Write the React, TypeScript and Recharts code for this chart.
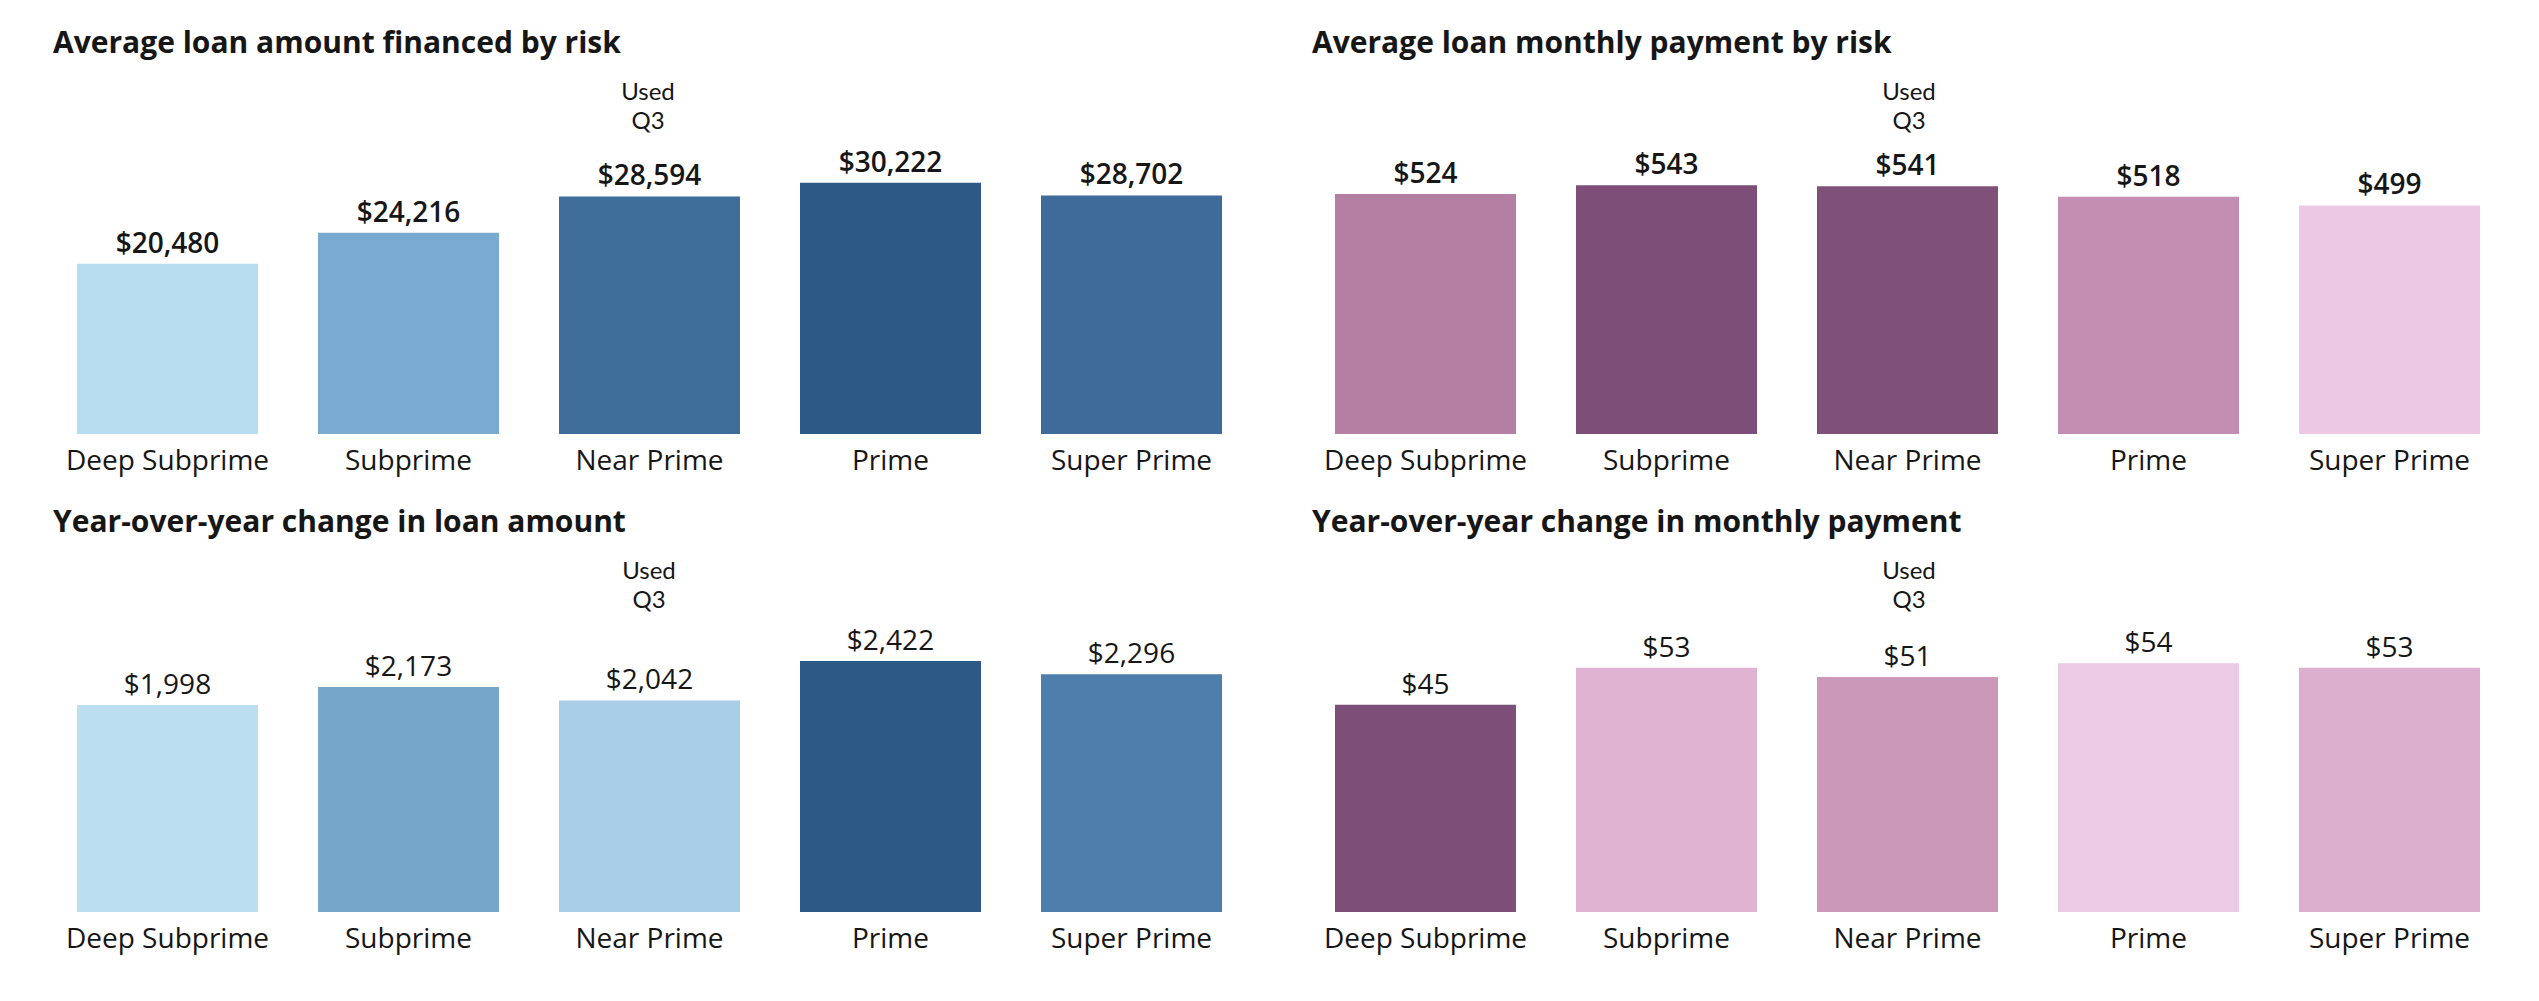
import React from 'react';
import { BarChart, Bar, XAxis, YAxis, Cell, LabelList } from 'recharts';

const categories = ['Deep Subprime', 'Subprime', 'Near Prime', 'Prime', 'Super Prime'];
const loanAmount = [20480, 24216, 28594, 30222, 28702];
const monthlyPayment = [524, 543, 541, 518, 499];
const yoyLoanAmount = [1998, 2173, 2042, 2422, 2296];
const yoyMonthlyPayment = [45, 53, 51, 54, 53];

const loanAmountColors = ['#b9ddf0', '#7aaacf', '#3e6d99', '#2c5985', '#3f6b9b'];
const monthlyPaymentColors = ['#b47fa2', '#7d4e78', '#7f5179', '#c48db2', '#ecc8e4'];
const yoyLoanAmountColors = ['#bbdef0', '#76a7cb', '#a8cee8', '#2c5985', '#4d7eac'];
const yoyMonthlyPaymentColors = ['#7d4e78', '#e0b3d2', '#cc98ba', '#ecc9e4', '#ddafcf'];

const titles = [
  'Average loan amount financed by risk',
  'Average loan monthly payment by risk',
  'Year-over-year change in loan amount',
  'Year-over-year change in monthly payment',
];
const headerLines = ['Used', 'Q3'];

const FONT = '"Open Sans", "Noto Sans", sans-serif';
const HEADER_FONT = 'Lato, "Open Sans", sans-serif';
const TEXT = '#161616';

const fmt = (v: number) => '$' + v.toLocaleString('en-US');

type PanelProps = {
  left: number;
  top: number;
  values: number[];
  colors: string[];
  domainMax: number;
  labelWeight: number;
};

function Panel({ left, top, values, colors, domainMax, labelWeight }: PanelProps) {
  const data = categories.map((c, i) => ({ category: c, value: values[i] }));
  return (
    <div style={{ position: 'absolute', left, top }}>
      <BarChart width={1205} height={354} data={data} margin={{ top: 0, right: 0, bottom: 0, left: 0 }}>
        <YAxis hide domain={[0, domainMax]} />
        <XAxis
          dataKey="category"
          axisLine={false}
          tickLine={false}
          tickSize={0}
          tickMargin={16}
          height={60}
          interval={0}
          tick={{ fill: TEXT, fontSize: 28, fontFamily: FONT }}
        />
        <Bar dataKey="value" barSize={181} isAnimationActive={false}>
          {data.map((d, i) => (
            <Cell key={d.category} fill={colors[i]} />
          ))}
          <LabelList
            dataKey="value"
            position="top"
            offset={11}
            formatter={(v: any) => fmt(Number(v))}
            style={{ fill: TEXT, fontSize: 28, fontFamily: FONT, fontWeight: labelWeight }}
          />
        </Bar>
      </BarChart>
    </div>
  );
}

export default function App() {
  const titlePos = [
    { x: 53, y: 53 },
    { x: 1312, y: 53 },
    { x: 53, y: 532 },
    { x: 1312, y: 532 },
  ];
  const headerPos = [
    { x: 648, y: 100 },
    { x: 1909, y: 100 },
    { x: 649, y: 579 },
    { x: 1909, y: 579 },
  ];
  return (
    <div style={{ position: 'absolute', left: 0, top: 0, width: 2539, height: 1001, background: '#ffffff', overflow: 'hidden' }}>
      <Panel left={46.5} top={140} values={loanAmount} colors={loanAmountColors} domainMax={35380} labelWeight={600} />
      <Panel left={1304.5} top={140} values={monthlyPayment} colors={monthlyPaymentColors} domainMax={642} labelWeight={600} />
      <Panel left={46.5} top={618} values={yoyLoanAmount} colors={yoyLoanAmountColors} domainMax={2838} labelWeight={400} />
      <Panel left={1304.5} top={618} values={yoyMonthlyPayment} colors={yoyMonthlyPaymentColors} domainMax={63.8} labelWeight={400} />
      <svg width={2539} height={1001} style={{ position: 'absolute', left: 0, top: 0, pointerEvents: 'none' }}>
        {titles.map((t, i) => (
          <text key={t} x={titlePos[i].x} y={titlePos[i].y} fill={TEXT} fontFamily={FONT} fontSize={30} fontWeight={700}>
            {t}
          </text>
        ))}
        {headerPos.map((p, i) =>
          headerLines.map((line, j) => (
            <text
              key={i + '-' + line}
              x={p.x}
              y={p.y + j * 29}
              textAnchor="middle"
              fill={TEXT}
              fontFamily={HEADER_FONT}
              fontSize={24}
            >
              {line}
            </text>
          ))
        )}
      </svg>
    </div>
  );
}
